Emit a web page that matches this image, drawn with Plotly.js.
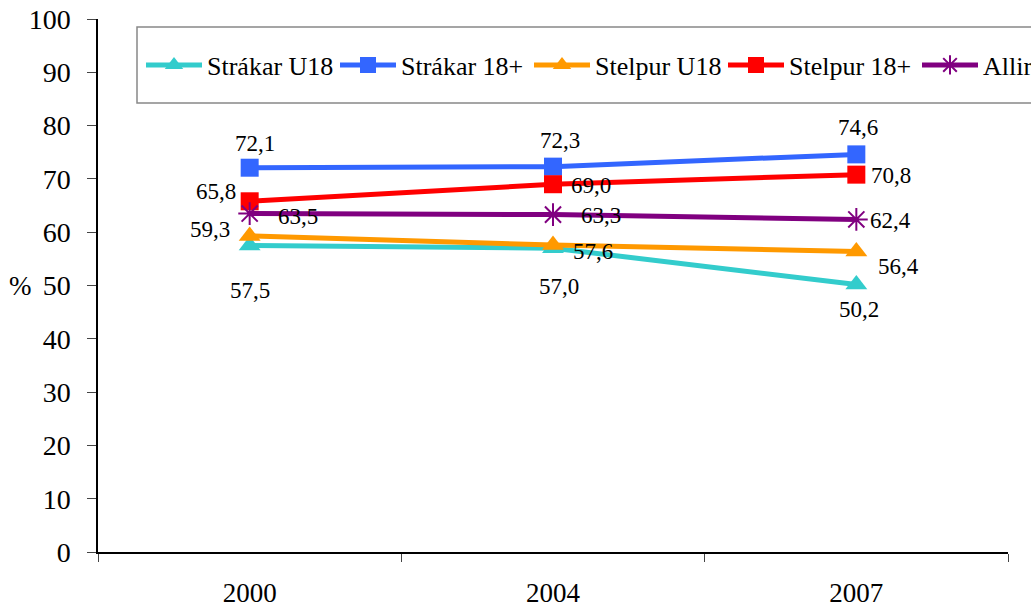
<!DOCTYPE html>
<html>
<head>
<meta charset="utf-8">
<script src="https://cdn.plot.ly/plotly-3.0.1.min.js"></script>
<style>
  html, body { margin: 0; padding: 0; background: #fff; }
  #wrap { width: 1031px; height: 612px; overflow: hidden; }
  #chart { width: 1100px; height: 612px; }
</style>
</head>
<body>
<div id="wrap"><div id="chart"></div></div>
<script>
// data
const years = ['2000', '2004', '2007'];
const strakarU18 = [57.5, 57.0, 50.2];
const strakar18 = [72.1, 72.3, 74.6];
const stelpurU18 = [59.3, 57.6, 56.4];
const stelpur18 = [65.8, 69.0, 70.8];
const allir = [63.5, 63.3, 62.4];
const seriesNames = ['Strákar U18', 'Strákar 18+', 'Stelpur U18', 'Stelpur 18+', 'Allir'];
const seriesValues = [strakarU18, strakar18, stelpurU18, stelpur18, allir];

// styling
const colors = ['#33CCCC', '#3366FF', '#FF9900', '#FF0000', '#800080'];
const symbols = ['triangle-up', 'square', 'triangle-up', 'square', 'asterisk-open'];
const sizes = [19, 18, 19, 18, 19];
// where each value label sits relative to its point (px)
const labelShift = [
  [[0, -45], [6, -38], [3, -25]],
  [[5, 24], [7, 26], [2, 27]],
  [[-40, 6], [40, -7], [42, -15]],
  [[-34, 10], [38, -1], [35, -1]],
  [[48, -3], [48, -1], [34, -1]]
];

const font = '"Liberation Serif", "Times New Roman", serif';
// the figure is a bit wider than the window so the legend runs off the right edge like the original
const W = 1100, L = 98, R = 0;
const plotW = W - L - R;
const px = x => (x - L) / plotW;

const traces = seriesValues.map((vals, i) => ({
  x: years, y: vals, name: seriesNames[i],
  type: 'scatter', mode: 'lines+markers',
  line: {color: colors[i], width: 5},
  marker: symbols[i] === 'asterisk-open'
    ? {symbol: symbols[i], size: sizes[i], color: colors[i], line: {color: colors[i], width: 2}}
    : {symbol: symbols[i], size: sizes[i], color: colors[i]}
}));

const annotations = [];
seriesValues.forEach((vals, i) => {
  vals.forEach((v, j) => {
    annotations.push({
      x: j, y: v, xref: 'x', yref: 'y',   // category index of years[j]
      text: v.toFixed(1).replace('.', ','),
      showarrow: false, xshift: labelShift[i][j][0], yshift: labelShift[i][j][1],
      font: {family: font, size: 23, color: '#000'}
    });
  });
});
annotations.push({
  x: px(20), y: 50, xref: 'paper', yref: 'y', xanchor: 'center', text: '%', showarrow: false,
  font: {family: font, size: 27, color: '#000'}
});

const layout = {
  width: W, height: 612,
  margin: {l: L, r: R, t: 19, b: 60, autoexpand: false},
  paper_bgcolor: '#fff', plot_bgcolor: '#fff',
  font: {family: font, color: '#000'},
  showlegend: true,
  legend: {
    orientation: 'h', x: px(141), xanchor: 'left', y: 1 - 46 / 533, yanchor: 'middle',
    bgcolor: 'rgba(0,0,0,0)', borderwidth: 0,
    font: {family: font, size: 26, color: '#000'},
    itemwidth: 56, entrywidth: 123, entrywidthmode: 'pixels'
  },
  shapes: [{
    type: 'rect', xref: 'paper', yref: 'paper',
    x0: px(137), x1: px(1120), y0: 1 - 84 / 533, y1: 1 - 8 / 533,
    line: {color: '#888', width: 1.5}, fillcolor: '#fff', layer: 'below'
  }],
  xaxis: {
    type: 'category', range: [-0.5, 2.5], domain: [0, 910 / plotW],
    showline: true, linecolor: '#000', linewidth: 1.5,
    ticks: 'outside', tickson: 'boundaries', ticklen: 8, tickcolor: '#444', tickwidth: 1,
    ticklabelstandoff: 16,
    tickfont: {family: font, size: 27, color: '#000'},
    showgrid: false, zeroline: false, fixedrange: true
  },
  yaxis: {
    range: [0, 100], dtick: 10, tick0: 0,
    showline: true, linecolor: '#000', linewidth: 1.5,
    ticks: 'outside', ticklen: 9, tickcolor: '#444', tickwidth: 1,
    ticklabelstandoff: 11,
    tickfont: {family: font, size: 28, color: '#000'},
    showgrid: false, zeroline: false, fixedrange: true
  },
  annotations: annotations
};

Plotly.newPlot('chart', traces, layout, {displayModeBar: false});
</script>
</body>
</html>
